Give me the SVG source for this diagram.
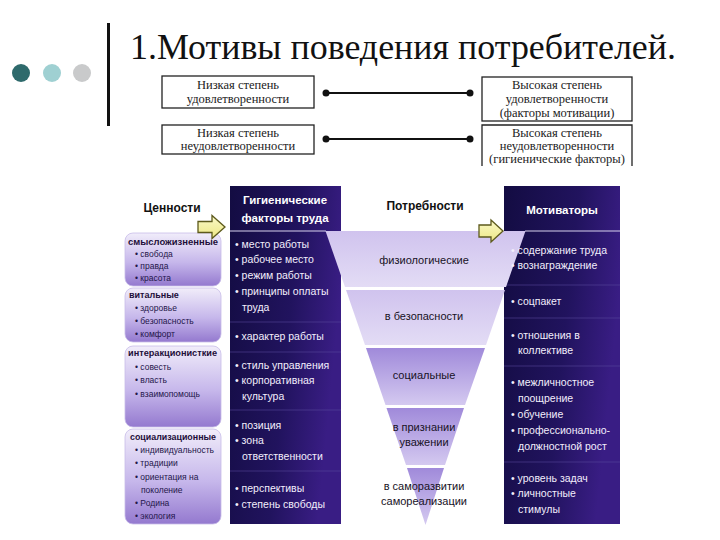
<svg xmlns="http://www.w3.org/2000/svg" width="720" height="540" viewBox="0 0 720 540">
<defs>
<linearGradient id="lav" x1="0" y1="0" x2="0" y2="1">
<stop offset="0" stop-color="#f1edfa"/>
<stop offset="0.55" stop-color="#c6b7eb"/>
<stop offset="1" stop-color="#9479cf"/>
</linearGradient>
<linearGradient id="dark" x1="0" y1="0" x2="1" y2="0.3">
<stop offset="0" stop-color="#130c42"/>
<stop offset="0.6" stop-color="#21135e"/>
<stop offset="1" stop-color="#391d84"/>
</linearGradient>
<linearGradient id="pyrA" x1="0" y1="0" x2="0" y2="1">
<stop offset="0" stop-color="#d0c3ee"/>
<stop offset="1" stop-color="#e3dcf5"/>
</linearGradient>
<linearGradient id="pyrB" x1="0" y1="0" x2="0" y2="1">
<stop offset="0" stop-color="#a08ada"/>
<stop offset="1" stop-color="#d4c9f0"/>
</linearGradient>
<linearGradient id="yel" x1="0" y1="0" x2="0" y2="1">
<stop offset="0" stop-color="#fbf9c8"/>
<stop offset="1" stop-color="#ece784"/>
</linearGradient>
<style>
.title{font-family:"Liberation Serif","Times New Roman",serif;font-size:36px;fill:#111}
.ser{font-family:"Liberation Serif","Times New Roman",serif;font-size:12.5px;fill:#222;text-anchor:middle}
.box{fill:#fff;stroke:#222;stroke-width:1.3}
.conn{stroke:#111;stroke-width:2}
.lh{font-family:"Liberation Sans",Arial,sans-serif;font-size:9px;font-weight:bold;fill:#1e0f3a}
.li{font-family:"Liberation Sans",Arial,sans-serif;font-size:8.5px;fill:#24164a}
.hdr{font-family:"Liberation Sans",Arial,sans-serif;font-size:12px;font-weight:bold;fill:#111;text-anchor:middle}
.wh{font-family:"Liberation Sans",Arial,sans-serif;font-size:11.5px;font-weight:bold;fill:#fff;text-anchor:middle}
.wi{font-family:"Liberation Sans",Arial,sans-serif;font-size:10.5px;fill:#f2eefc}
.pt{font-family:"Liberation Sans",Arial,sans-serif;font-size:11px;fill:#181226;text-anchor:middle}
.lbox{fill:url(#lav);stroke:#c8bce8;stroke-width:0.8}
.sep{stroke:#5a4a9e;stroke-width:1;opacity:0.55}
.arrow{fill:url(#yel);stroke:#5d5a1c;stroke-width:1.3;stroke-linejoin:miter}
</style>
</defs>
<rect width="720" height="540" fill="#fff"/>

<g id="decor">
<circle cx="21" cy="73" r="9" fill="#2e6a6c"/>
<circle cx="52" cy="73" r="9" fill="#9fd0d2"/>
<circle cx="82" cy="73" r="9" fill="#c9cacb"/>
<rect x="107" y="23" width="3" height="103" fill="#111"/>
</g>
<text class="title" x="130" y="59" textLength="546" lengthAdjust="spacingAndGlyphs">1.Мотивы поведения потребителей.</text>

<g id="low-satisfaction">
<rect class="box" x="162" y="76" width="152" height="32"/>
<text class="ser" x="238" y="89">Низкая степень</text>
<text class="ser" x="238" y="103">удовлетворенности</text>
</g>
<g id="high-satisfaction">
<rect class="box" x="482" y="77" width="150" height="44"/>
<text class="ser" x="557" y="89">Высокая степень</text>
<text class="ser" x="557" y="103">удовлетворенности</text>
<text class="ser" x="557" y="117">(факторы мотивации)</text>
</g>
<g id="low-dissatisfaction">
<rect class="box" x="162" y="125" width="152" height="29"/>
<text class="ser" x="238" y="137">Низкая степень</text>
<text class="ser" x="238" y="150">неудовлетворенности</text>
</g>
<g id="high-dissatisfaction">
<path class="box" fill="none" d="M482,166 V125 H632 V166"/>
<text class="ser" x="557" y="137">Высокая степень</text>
<text class="ser" x="557" y="150">неудовлетворенности</text>
<text class="ser" x="557" y="163">(гигиенические факторы)</text>
</g>
<g id="connectors">
<line class="conn" x1="326" y1="93" x2="470" y2="93"/>
<circle cx="326" cy="93" r="3.5" fill="#111"/>
<circle cx="470" cy="93" r="3.5" fill="#111"/>
<line class="conn" x1="326" y1="139" x2="470" y2="139"/>
<circle cx="326" cy="139" r="3.5" fill="#111"/>
<circle cx="470" cy="139" r="3.5" fill="#111"/>
</g>

<g id="values">
<text class="hdr" x="172" y="212">Ценности</text>
<g id="v1">
<rect class="lbox" x="125" y="233" width="96" height="53" rx="8"/>
<text class="lh" x="128" y="245" textLength="90" lengthAdjust="spacingAndGlyphs">смысложизненные</text>
<text class="li" x="135" y="257">• свобода</text>
<text class="li" x="135" y="269">• правда</text>
<text class="li" x="135" y="281">• красота</text>
</g>
<g id="v2">
<rect class="lbox" x="125" y="288" width="96" height="54" rx="8"/>
<text class="lh" x="129" y="298">витальные</text>
<text class="li" x="135" y="311">• здоровье</text>
<text class="li" x="135" y="324">• безопасность</text>
<text class="li" x="135" y="337">• комфорт</text>
</g>
<g id="v3">
<rect class="lbox" x="125" y="346" width="96" height="81" rx="8"/>
<text class="lh" x="128" y="356" textLength="89" lengthAdjust="spacingAndGlyphs">интеракционисткие</text>
<text class="li" x="135" y="370">• совесть</text>
<text class="li" x="135" y="383">• власть</text>
<text class="li" x="135" y="397">• взаимопомощь</text>
</g>
<g id="v4">
<rect class="lbox" x="125" y="429" width="96" height="95" rx="8"/>
<text class="lh" x="130" y="440" textLength="86" lengthAdjust="spacingAndGlyphs">социализационные</text>
<text class="li" x="135" y="453">• индивидуальность</text>
<text class="li" x="135" y="466">• традиции</text>
<text class="li" x="135" y="480">• ориентация на</text>
<text class="li" x="141" y="493">поколение</text>
<text class="li" x="135" y="506">• Родина</text>
<text class="li" x="135" y="519">• экология</text>
</g>
</g>

<g id="hygiene-bg">
<rect x="230" y="186" width="111" height="338" fill="url(#dark)"/>
<line class="sep" x1="230" y1="322" x2="341" y2="322"/>
<line class="sep" x1="230" y1="352" x2="341" y2="352"/>
<line class="sep" x1="230" y1="410" x2="341" y2="410"/>
<line class="sep" x1="230" y1="471" x2="341" y2="471"/>
</g>
<g id="motivators-bg">
<rect x="504" y="186" width="116" height="338" fill="url(#dark)"/>
<line class="sep" x1="504" y1="285" x2="620" y2="285"/>
<line class="sep" x1="504" y1="318" x2="620" y2="318"/>
<line class="sep" x1="504" y1="366" x2="620" y2="366"/>
<line class="sep" x1="504" y1="462" x2="620" y2="462"/>
</g>

<g id="needs">
<text class="hdr" x="425" y="210">Потребности</text>
<g id="n1"><polygon points="325.5,231 525.5,231 506,287 345,287" fill="url(#pyrA)"/>
<text class="pt" x="424" y="264">физиологические</text></g>
<g id="n2"><polygon points="346,290 505,290 486,345 365,345" fill="url(#pyrA)"/>
<text class="pt" x="424" y="320">в безопасности</text></g>
<g id="n3"><polygon points="366,348 485,348 465,405 385.5,405" fill="url(#pyrB)"/>
<text class="pt" x="424" y="379">социальные</text></g>
<g id="n4"><polygon points="386.5,408 464,408 445,465 406,465" fill="url(#pyrB)"/>
<text class="pt" x="424" y="431">в признании</text>
<text class="pt" x="424" y="446">уважении</text></g>
<g id="n5"><polygon points="407,468 444,468 425.5,525" fill="url(#pyrB)"/>
<text class="pt" x="424" y="490">в саморазвитии</text>
<text class="pt" x="424" y="505">самореализации</text></g>
</g>

<g id="hygiene">
<text class="wh" x="285" y="204">Гигиенические</text>
<text class="wh" x="285" y="222">факторы труда</text>
<line x1="230" y1="231" x2="326" y2="231" stroke="#d8d2ee" stroke-width="1"/>
<text class="wi" x="235" y="248">• место работы</text>
<text class="wi" x="235" y="263">• рабочее место</text>
<text class="wi" x="235" y="279">• режим работы</text>
<text class="wi" x="235" y="295">• принципы оплаты</text>
<text class="wi" x="242" y="311">труда</text>
<text class="wi" x="235" y="340">• характер работы</text>
<text class="wi" x="235" y="369">• стиль управления</text>
<text class="wi" x="235" y="384">• корпоративная</text>
<text class="wi" x="242" y="400">культура</text>
<text class="wi" x="235" y="429">• позиция</text>
<text class="wi" x="235" y="444">• зона</text>
<text class="wi" x="242" y="460">ответственности</text>
<text class="wi" x="235" y="492">• перспективы</text>
<text class="wi" x="235" y="508">• степень свободы</text>
</g>

<g id="motivators">
<text class="wh" x="562" y="214">Мотиваторы</text>
<line x1="525" y1="231" x2="620" y2="231" stroke="#d8d2ee" stroke-width="1"/>
<text class="wi" x="511" y="254">• содержание труда</text>
<text class="wi" x="511" y="269">• вознаграждение</text>
<text class="wi" x="511" y="305">• соцпакет</text>
<text class="wi" x="511" y="339">• отношения в</text>
<text class="wi" x="518" y="354">коллективе</text>
<text class="wi" x="511" y="386">• межличностное</text>
<text class="wi" x="518" y="402">поощрение</text>
<text class="wi" x="511" y="418">• обучение</text>
<text class="wi" x="511" y="434">• профессионально-</text>
<text class="wi" x="518" y="450">должностной рост</text>
<text class="wi" x="511" y="482">• уровень задач</text>
<text class="wi" x="511" y="497">• личностные</text>
<text class="wi" x="518" y="513">стимулы</text>
</g>

<g id="arrows">
<polygon class="arrow" points="198,221.5 212,221.5 212,215.5 225,227 212,238.5 212,232.5 198,232.5"/>
<polygon class="arrow" points="479,225 491,225 491,220 503,231 491,242 491,237 479,237"/>
</g>
</svg>
